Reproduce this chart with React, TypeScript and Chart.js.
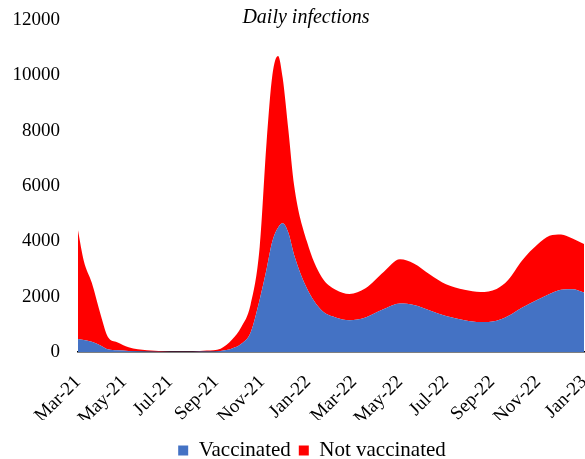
import React, { useEffect, useRef } from "react";
import { Chart, registerables } from "chart.js";

Chart.register(...registerables);

const monthLabels = ["Mar-21", "May-21", "Jul-21", "Sep-21", "Nov-21", "Jan-22", "Mar-22", "May-22", "Jul-22", "Sep-22", "Nov-22", "Jan-23"];

// months since Mar-21
const monthPos = [0, 0.25, 0.6, 1.0, 1.3, 1.7, 2.2, 3.0, 4.0, 5.0, 5.6, 6.2, 6.7, 7.1, 7.5, 7.9, 8.2, 8.45, 8.7, 8.9, 9.15, 9.4, 9.95, 10.6, 11.2, 11.8, 12.5, 13.3, 14.0, 14.6, 15.3, 16.0, 16.8, 17.5, 18.2, 18.7, 19.3, 20.0, 20.5, 21.0, 21.5, 22.0];

const vaccinated = [470, 430, 370, 230, 100, 60, 40, 20, 10, 10, 15, 40, 130, 300, 700, 1900, 3000, 4000, 4500, 4650, 4300, 3500, 2300, 1500, 1250, 1150, 1250, 1550, 1750, 1700, 1500, 1300, 1150, 1080, 1130, 1300, 1600, 1900, 2100, 2250, 2270, 2150];

const notVaccinated = [3930, 2870, 2130, 1070, 440, 290, 130, 40, 10, 10, 35, 80, 320, 600, 1000, 1900, 4600, 6000, 6200, 5250, 3700, 2500, 1700, 1200, 1000, 950, 1050, 1350, 1600, 1500, 1300, 1150, 1100, 1090, 1150, 1300, 1700, 2000, 2100, 2000, 1830, 1750];

const FONT = "'Liberation Serif', 'Times New Roman', serif";

const titlePlugin = {
  id: "customTitle",
  afterLayout(chart: any) {
    const l = chart.legend;
    if (l) {
      l.top += 12;
      l.bottom += 12;
      l.left += 20;
      l.right += 20;
    }
  },
  afterDraw(chart: any) {
    const ctx = chart.ctx;
    ctx.save();
    ctx.font = `italic 20px ${FONT}`;
    ctx.fillStyle = "#000";
    ctx.textAlign = "center";
    ctx.textBaseline = "middle";
    ctx.fillText("Daily infections", 306, 18);
    ctx.restore();
  },
};

export default function App() {
  const ref = useRef<HTMLCanvasElement>(null);
  useEffect(() => {
    document.body.style.margin = "0";
    const chart = new Chart(ref.current!, {
      type: "line",
      data: {
        datasets: [
          {
            label: "Vaccinated",
            data: monthPos.map((x, i) => ({ x, y: vaccinated[i] })),
            backgroundColor: "#4472C4",
            borderColor: "#4472C4",
            borderWidth: 0,
            pointRadius: 0,
            fill: "origin",
            cubicInterpolationMode: "monotone",
          },
          {
            label: "Not vaccinated",
            data: monthPos.map((x, i) => ({ x, y: notVaccinated[i] })),
            backgroundColor: "#FF0000",
            borderColor: "#FF0000",
            borderWidth: 0,
            pointRadius: 0,
            fill: "-1",
            cubicInterpolationMode: "monotone",
          },
        ],
      },
      options: {
        animation: false,
        responsive: false,
        layout: { padding: { top: 20, right: 1, left: 0, bottom: 0 } },
        scales: {
          x: {
            type: "linear",
            min: 0,
            max: 22,
            grid: { display: false, drawTicks: false },
            border: { display: true, color: "#000", width: 1.5 },
            afterFit: (s: any) => {
              s.height = 68;
              s.paddingLeft = 0;
              s.paddingRight = 0;
            },
            ticks: {
              stepSize: 2,
              autoSkip: false,
              minRotation: 45,
              maxRotation: 45,
              padding: 19,
              color: "#000",
              font: { family: FONT, size: 19 },
              callback: (v: any) => monthLabels[Math.round(Number(v) / 2)] ?? "",
            },
          },
          y: {
            stacked: true,
            min: 0,
            max: 12000,
            grid: { display: false, drawTicks: false },
            border: { display: false },
            afterFit: (s: any) => {
              s.width = 78;
              s.paddingTop = 0;
              s.paddingBottom = 0;
            },
            ticks: {
              stepSize: 2000,
              padding: 18,
              color: "#000",
              font: { family: FONT, size: 19 },
              callback: (v: any) => String(v),
            },
          },
        },
        plugins: {
          title: { display: false },
          tooltip: { enabled: false },
          legend: {
            position: "bottom",
            labels: {
              boxWidth: 10,
              boxHeight: 10,
              padding: 8,
              color: "#000",
              font: { family: FONT, size: 21 },
            },
          },
        },
      },
      plugins: [titlePlugin],
    });
    return () => chart.destroy();
  }, []);
  return (
    <div style={{ width: 585, height: 459 }}>
      <canvas ref={ref} width={585} height={459} />
    </div>
  );
}
